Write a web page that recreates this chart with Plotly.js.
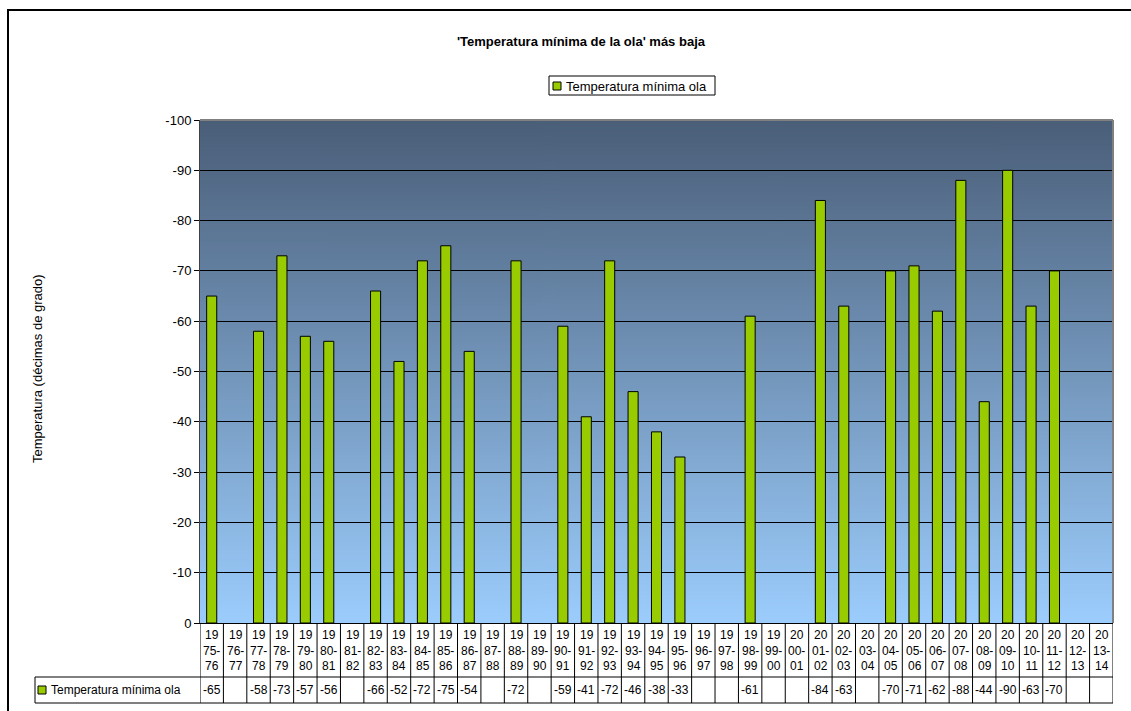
<!DOCTYPE html>
<html>
<head>
<meta charset="utf-8">
<script src="https://cdn.plot.ly/plotly-3.0.1.min.js"></script>
<style>html,body{margin:0;padding:0;background:#fff;}#chart{width:1131px;height:711px;}</style>
</head>
<body>
<div id="chart"></div>
<script>
const categories = ["1975-76","1976-77","1977-78","1978-79","1979-80","1980-81","1981-82","1982-83","1983-84","1984-85","1985-86","1986-87","1987-88","1988-89","1989-90","1990-91","1991-92","1992-93","1993-94","1994-95","1995-96","1996-97","1997-98","1998-99","1999-00","2000-01","2001-02","2002-03","2003-04","2004-05","2005-06","2006-07","2007-08","2008-09","2009-10","2010-11","2011-12","2012-13","2013-14"];
const tempMin = [-65,null,-58,-73,-57,-56,null,-66,-52,-72,-75,-54,null,-72,null,-59,-41,-72,-46,-38,-33,null,null,-61,null,null,-84,-63,null,-70,-71,-62,-88,-44,-90,-63,-70,null,null];
const seriesName = "Temperatura mínima ola";
const chartTitle = "'Temperatura mínima de la ola' más baja";
const yTitle = "Temperatura (décimas de grado)";
const yTicks = [-100,-90,-80,-70,-60,-50,-40,-30,-20,-10,0];

// geometry helpers (pixel -> paper)
const W = 1131, H = 711;
const L = 200, R = 1113, T = 120, B = 623;
const px = p => (p - L) / (R - L);
const py = p => (B - p) / (B - T);

const FONT = "Liberation Sans, Arial, sans-serif";

// gradient background via canvas
function gradientURL() {
  const c = document.createElement('canvas');
  c.width = 4; c.height = 512;
  const g = c.getContext('2d');
  const grd = g.createLinearGradient(0, 0, 0, 512);
  grd.addColorStop(0, '#4a5e78');
  grd.addColorStop(1, '#9ccdfd');
  g.fillStyle = grd;
  g.fillRect(0, 0, 4, 512);
  return c.toDataURL('image/png');
}

const trace = {
  type: 'bar',
  x: categories,
  y: tempMin,
  name: seriesName,
  showlegend: false,
  marker: {color: '#99cc00', line: {color: '#000000', width: 1}},
  hoverinfo: 'x+y'
};

const shapes = [];
const annotations = [];

// frame (top and left)
shapes.push({type:'line', xref:'paper', yref:'paper', x0:px(7), x1:px(1131), y0:py(10), y1:py(10), line:{color:'#000', width:2}});
shapes.push({type:'line', xref:'paper', yref:'paper', x0:px(8), x1:px(8), y0:py(9), y1:py(711), line:{color:'#000', width:2}});
// plot area top/right border
shapes.push({type:'line', xref:'paper', yref:'paper', x0:0, x1:1, y0:1, y1:1, line:{color:'#808080', width:2}});
shapes.push({type:'line', xref:'paper', yref:'paper', x0:1, x1:1, y0:0, y1:1, line:{color:'#808080', width:2}});

// legend (box, key, text)
shapes.push({type:'rect', xref:'paper', yref:'paper', x0:px(549), x1:px(715), y0:py(95), y1:py(76), fillcolor:'#fff', line:{color:'#000', width:1}});
shapes.push({type:'rect', xref:'paper', yref:'paper', x0:px(553), x1:px(561), y0:py(90), y1:py(82), fillcolor:'#99cc00', line:{color:'#000', width:1}});
annotations.push({xref:'paper', yref:'paper', x:px(564), y:py(86), xanchor:'left', yanchor:'middle', showarrow:false, text:seriesName, font:{family:FONT, size:13, color:'#000'}});

// data table grid
for (let i = 0; i <= categories.length; i++) {
  shapes.push({type:'line', xref:'x', yref:'paper', x0:i-0.5, x1:i-0.5, y0:0, y1:py(703), line:{color:'#000', width:1}});
}
shapes.push({type:'line', xref:'paper', yref:'paper', x0:px(35), x1:1, y0:py(677), y1:py(677), line:{color:'#000', width:1}});
shapes.push({type:'line', xref:'paper', yref:'paper', x0:px(35), x1:1, y0:py(703), y1:py(703), line:{color:'#000', width:1}});
shapes.push({type:'line', xref:'paper', yref:'paper', x0:px(35), x1:px(35), y0:py(677), y1:py(703), line:{color:'#000', width:1}});
// row header legend key
shapes.push({type:'rect', xref:'paper', yref:'paper', x0:px(38), x1:px(46), y0:py(694), y1:py(686), fillcolor:'#99cc00', line:{color:'#000', width:1}});
annotations.push({xref:'paper', yref:'paper', x:px(49), y:py(690), xanchor:'left', yanchor:'middle', showarrow:false, text:seriesName, font:{family:FONT, size:12, color:'#000'}});

// table cells
categories.forEach((c, i) => {
  const lbl = c.slice(0,2) + '<br>' + c.slice(2,5) + '<br>' + c.slice(5);
  annotations.push({xref:'x', yref:'paper', x:c, y:py(650), xanchor:'center', yanchor:'middle', showarrow:false, text:lbl, font:{family:FONT, size:12, color:'#000'}});
  if (tempMin[i] !== null) {
    annotations.push({xref:'x', yref:'paper', x:c, y:py(690), xanchor:'center', yanchor:'middle', showarrow:false, text:String(tempMin[i]), font:{family:FONT, size:12, color:'#000'}});
  }
});

// y-axis title
annotations.push({xref:'paper', yref:'paper', x:px(37), y:py(369), xanchor:'center', yanchor:'middle', textangle:-90, showarrow:false, text:yTitle, font:{family:FONT, size:13, color:'#000'}});

const layout = {
  width: W, height: H,
  margin: {l: L, r: W - R, t: T, b: H - B, pad: 0},
  paper_bgcolor: '#ffffff',
  plot_bgcolor: 'rgba(0,0,0,0)',
  title: {text: chartTitle, font:{family:FONT, size:13, color:'#000', weight:'bold'}, xref:'container', yref:'container', x: 581/W, y: 1 - 41/H, xanchor:'center', yanchor:'middle'},
  showlegend: false,
  bargap: 0.57,
  xaxis: {type:'category', categoryorder:'array', categoryarray:categories, range:[-0.5, categories.length-0.5], showticklabels:false, ticks:'', showline:true, linecolor:'#000', linewidth:1, showgrid:false, zeroline:false, fixedrange:true},
  yaxis: {range:[0,-100], tickvals:yTicks, ticktext:yTicks.map(String), ticks:'outside', ticklen:5, tickcolor:'#000', showline:true, linecolor:'#404040', linewidth:1, showgrid:true, gridcolor:'#000', gridwidth:1, zeroline:false, tickfont:{family:FONT, size:13, color:'#000'}, fixedrange:true},
  images: [{source: gradientURL(), xref:'paper', yref:'paper', x:0, y:1, sizex:1, sizey:1, sizing:'stretch', xanchor:'left', yanchor:'top', layer:'below'}],
  shapes: shapes,
  annotations: annotations
};

Plotly.newPlot('chart', [trace], layout, {displayModeBar:false, staticPlot:true});
</script>
</body>
</html>
